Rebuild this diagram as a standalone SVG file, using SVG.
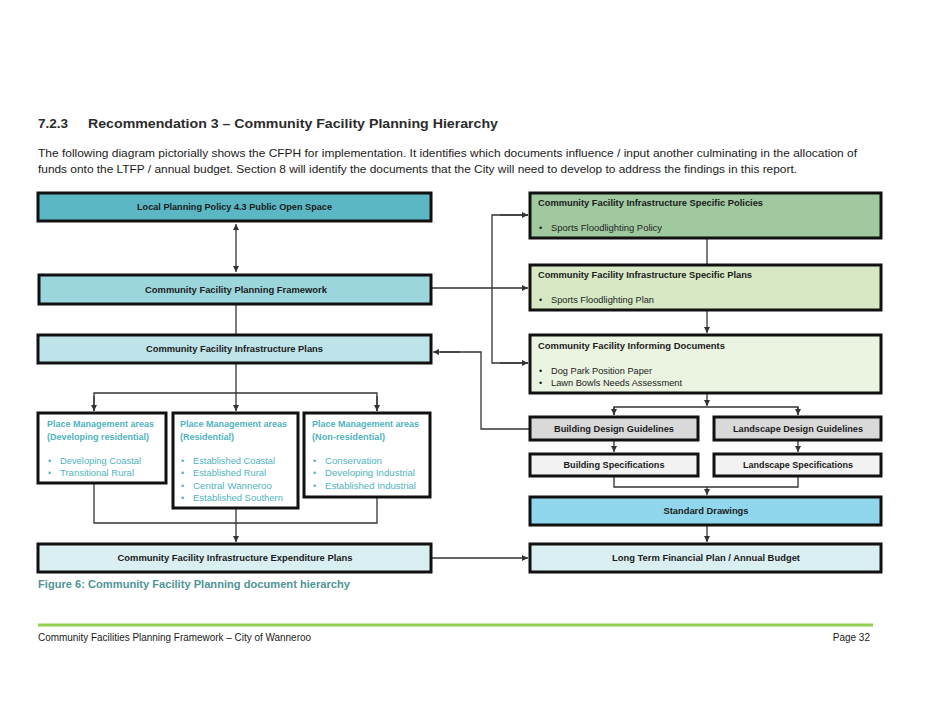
<svg xmlns="http://www.w3.org/2000/svg" width="925" height="702" viewBox="0 0 925 702">
<defs>
<marker id="ah" viewBox="0 0 6 6" refX="6" refY="3" markerWidth="6" markerHeight="6" markerUnits="userSpaceOnUse" orient="auto-start-reverse"><path d="M0,0 L6,3 L0,6 z" fill="#333"/></marker>
<style>
text{font-family:"Liberation Sans",Arial,sans-serif}
.box{stroke:#111;stroke-width:3}
.t{font-size:9px;font-weight:bold;fill:#1a1a1a}
.b{font-size:9px;fill:#222}
.pt{font-size:9px;font-weight:bold;fill:#4fb3c0}
.pb{font-size:9px;fill:#4fb3c0}
.c{fill:none;stroke:#333;stroke-width:1.3}
.a{marker-end:url(#ah)}
</style>
</defs>
<rect width="925" height="702" fill="#fff"/>
<g id="header">
<text x="38" y="128" font-size="13.5" font-weight="bold" fill="#2b2b2b">7.2.3</text>
<text x="88" y="128" font-size="13.5" font-weight="bold" fill="#2b2b2b" textLength="410" lengthAdjust="spacingAndGlyphs">Recommendation 3 – Community Facility Planning Hierarchy</text>
<text x="38" y="157" font-size="11" fill="#1a1a1a" textLength="819" lengthAdjust="spacingAndGlyphs">The following diagram pictorially shows the CFPH for implementation. It identifies which documents influence / input another culminating in the allocation of</text>
<text x="38" y="173" font-size="11" fill="#1a1a1a" textLength="759" lengthAdjust="spacingAndGlyphs">funds onto the LTFP / annual budget. Section 8 will identify the documents that the City will need to develop to address the findings in this report.</text>
</g>
<g id="connectors">
<line class="c a" x1="236" y1="224" x2="236" y2="272" marker-start="url(#ah)"/>
<line class="c" x1="236" y1="304" x2="236" y2="335"/>
<polyline class="c" points="236,363 236,393"/>
<polyline class="c" points="94,411 94,393 377,393 377,411"/>
<line class="c a" x1="94" y1="396" x2="94" y2="411"/>
<line class="c a" x1="236" y1="393" x2="236" y2="411"/>
<line class="c a" x1="377" y1="396" x2="377" y2="411"/>
<polyline class="c" points="94,483 94,523 377,523 377,497"/>
<line class="c a" x1="236" y1="508" x2="236" y2="542"/>
<line class="c a" x1="431" y1="288" x2="528" y2="288"/>
<polyline class="c" points="528,215 492,215 492,363 528,363"/>
<line class="c a" x1="500" y1="215" x2="528" y2="215"/>
<line class="c a" x1="500" y1="363" x2="528" y2="363"/>
<polyline class="c" points="530,429 481,429 481,352 440,352"/>
<line class="c a" x1="460" y1="352" x2="433" y2="352"/>
<line class="c" x1="707" y1="238" x2="707" y2="265"/>
<line class="c a" x1="707" y1="310" x2="707" y2="333"/>
<line class="c a" x1="707" y1="393" x2="707" y2="406"/>
<polyline class="c" points="614,415 614,407 798,407 798,415"/>
<line class="c a" x1="614" y1="407" x2="614" y2="415"/>
<line class="c a" x1="798" y1="407" x2="798" y2="415"/>
<line class="c a" x1="614" y1="440" x2="614" y2="452"/>
<line class="c a" x1="798" y1="440" x2="798" y2="452"/>
<polyline class="c" points="614,476 614,487 798,487 798,476"/>
<line class="c a" x1="707" y1="487" x2="707" y2="495"/>
<line class="c a" x1="707" y1="525" x2="707" y2="542"/>
<line class="c a" x1="431" y1="558" x2="528" y2="558"/>
</g>
<g id="lpp">
<rect class="box" x="38" y="193" width="393" height="28" fill="#5ab7c3"/>
<text class="t" x="234.5" y="210" text-anchor="middle" textLength="195" lengthAdjust="spacingAndGlyphs">Local Planning Policy 4.3 Public Open Space</text>
</g>
<g id="cfpf">
<rect class="box" x="39" y="275" width="392" height="29" fill="#9bd6dd"/>
<text class="t" x="236" y="293" text-anchor="middle" textLength="182" lengthAdjust="spacingAndGlyphs">Community Facility Planning Framework</text>
</g>
<g id="cfip">
<rect class="box" x="38" y="335" width="393" height="28" fill="#bee3e8"/>
<text class="t" x="234.5" y="352" text-anchor="middle" textLength="177" lengthAdjust="spacingAndGlyphs">Community Facility Infrastructure Plans</text>
</g>
<g id="pm1">
<rect class="box" x="38" y="413" width="128" height="70" fill="#fff"/>
<text class="pt" x="47" y="427" textLength="107" lengthAdjust="spacingAndGlyphs">Place Management areas</text>
<text class="pt" x="47" y="440" textLength="102" lengthAdjust="spacingAndGlyphs">(Developing residential)</text>
<text class="pb" x="48" y="464">•</text><text class="pb" x="60" y="464" textLength="81" lengthAdjust="spacingAndGlyphs">Developing Coastal</text>
<text class="pb" x="48" y="476">•</text><text class="pb" x="60" y="476" textLength="74" lengthAdjust="spacingAndGlyphs">Transitional Rural</text>
</g>
<g id="pm2">
<rect class="box" x="173" y="413" width="125" height="95" fill="#fff"/>
<text class="pt" x="180" y="427" textLength="107" lengthAdjust="spacingAndGlyphs">Place Management areas</text>
<text class="pt" x="180" y="440" textLength="54" lengthAdjust="spacingAndGlyphs">(Residential)</text>
<text class="pb" x="181" y="464">•</text><text class="pb" x="193" y="464" textLength="82" lengthAdjust="spacingAndGlyphs">Established Coastal</text>
<text class="pb" x="181" y="476">•</text><text class="pb" x="193" y="476" textLength="73" lengthAdjust="spacingAndGlyphs">Established Rural</text>
<text class="pb" x="181" y="489">•</text><text class="pb" x="193" y="489" textLength="79" lengthAdjust="spacingAndGlyphs">Central Wanneroo</text>
<text class="pb" x="181" y="501">•</text><text class="pb" x="193" y="501" textLength="90" lengthAdjust="spacingAndGlyphs">Established Southern</text>
</g>
<g id="pm3">
<rect class="box" x="304" y="413" width="126" height="84" fill="#fff"/>
<text class="pt" x="312" y="427" textLength="107" lengthAdjust="spacingAndGlyphs">Place Management areas</text>
<text class="pt" x="312" y="440" textLength="73" lengthAdjust="spacingAndGlyphs">(Non-residential)</text>
<text class="pb" x="313" y="464">•</text><text class="pb" x="325" y="464" textLength="57" lengthAdjust="spacingAndGlyphs">Conservation</text>
<text class="pb" x="313" y="476">•</text><text class="pb" x="325" y="476" textLength="90" lengthAdjust="spacingAndGlyphs">Developing Industrial</text>
<text class="pb" x="313" y="489">•</text><text class="pb" x="325" y="489" textLength="91" lengthAdjust="spacingAndGlyphs">Established Industrial</text>
</g>
<g id="cfiep">
<rect class="box" x="38" y="544" width="393" height="28" fill="#daeff1"/>
<text class="t" x="235" y="561" text-anchor="middle" textLength="235" lengthAdjust="spacingAndGlyphs">Community Facility Infrastructure Expenditure Plans</text>
</g>
<g id="policies">
<rect class="box" x="530" y="193" width="351" height="45" fill="#a0c9a0"/>
<text class="t" x="538" y="206" textLength="225" lengthAdjust="spacingAndGlyphs">Community Facility Infrastructure Specific Policies</text>
<text class="b" x="539" y="231">•</text><text class="b" x="551" y="231" textLength="111" lengthAdjust="spacingAndGlyphs">Sports Floodlighting Policy</text>
</g>
<g id="specplans">
<rect class="box" x="530" y="265" width="351" height="45" fill="#d6e9c4"/>
<text class="t" x="538" y="278" textLength="214" lengthAdjust="spacingAndGlyphs">Community Facility Infrastructure Specific Plans</text>
<text class="b" x="539" y="303">•</text><text class="b" x="551" y="303" textLength="103" lengthAdjust="spacingAndGlyphs">Sports Floodlighting Plan</text>
</g>
<g id="informing">
<rect class="box" x="530" y="335" width="351" height="58" fill="#ebf3e1"/>
<text class="t" x="538" y="349" textLength="187" lengthAdjust="spacingAndGlyphs">Community Facility Informing Documents</text>
<text class="b" x="539" y="374">•</text><text class="b" x="551" y="374" textLength="101" lengthAdjust="spacingAndGlyphs">Dog Park Position Paper</text>
<text class="b" x="539" y="386">•</text><text class="b" x="551" y="386" textLength="131" lengthAdjust="spacingAndGlyphs">Lawn Bowls Needs Assessment</text>
</g>
<g id="bdg">
<rect class="box" x="530" y="417" width="168" height="23" fill="#d9d9d9"/>
<text class="t" x="614" y="432" text-anchor="middle" textLength="120" lengthAdjust="spacingAndGlyphs">Building Design Guidelines</text>
</g>
<g id="ldg">
<rect class="box" x="714" y="417" width="167" height="23" fill="#d9d9d9"/>
<text class="t" x="798" y="432" text-anchor="middle" textLength="130" lengthAdjust="spacingAndGlyphs">Landscape Design Guidelines</text>
</g>
<g id="bs">
<rect class="box" x="530" y="454" width="168" height="22" fill="#f2f2f2"/>
<text class="t" x="614" y="468" text-anchor="middle" textLength="101" lengthAdjust="spacingAndGlyphs">Building Specifications</text>
</g>
<g id="ls">
<rect class="box" x="714" y="454" width="167" height="22" fill="#f2f2f2"/>
<text class="t" x="798" y="468" text-anchor="middle" textLength="110" lengthAdjust="spacingAndGlyphs">Landscape Specifications</text>
</g>
<g id="sd">
<rect class="box" x="530" y="497" width="351" height="28" fill="#90d7ed"/>
<text class="t" x="706" y="514" text-anchor="middle" textLength="85" lengthAdjust="spacingAndGlyphs">Standard Drawings</text>
</g>
<g id="ltfp">
<rect class="box" x="530" y="544" width="351" height="28" fill="#daeff1"/>
<text class="t" x="706" y="561" text-anchor="middle" textLength="188" lengthAdjust="spacingAndGlyphs">Long Term Financial Plan / Annual Budget</text>
</g>
<g id="footer">
<text x="38" y="588" font-size="11" font-weight="bold" fill="#4e9598" textLength="312" lengthAdjust="spacingAndGlyphs">Figure 6: Community Facility Planning document hierarchy</text>
<line x1="38" y1="625" x2="873" y2="625" stroke="#92d050" stroke-width="3"/>
<text x="38" y="641" font-size="10" fill="#1a1a1a" textLength="273" lengthAdjust="spacingAndGlyphs">Community Facilities Planning Framework – City of Wanneroo</text>
<text x="870" y="641" font-size="10" fill="#1a1a1a" text-anchor="end">Page 32</text>
</g>
</svg>
